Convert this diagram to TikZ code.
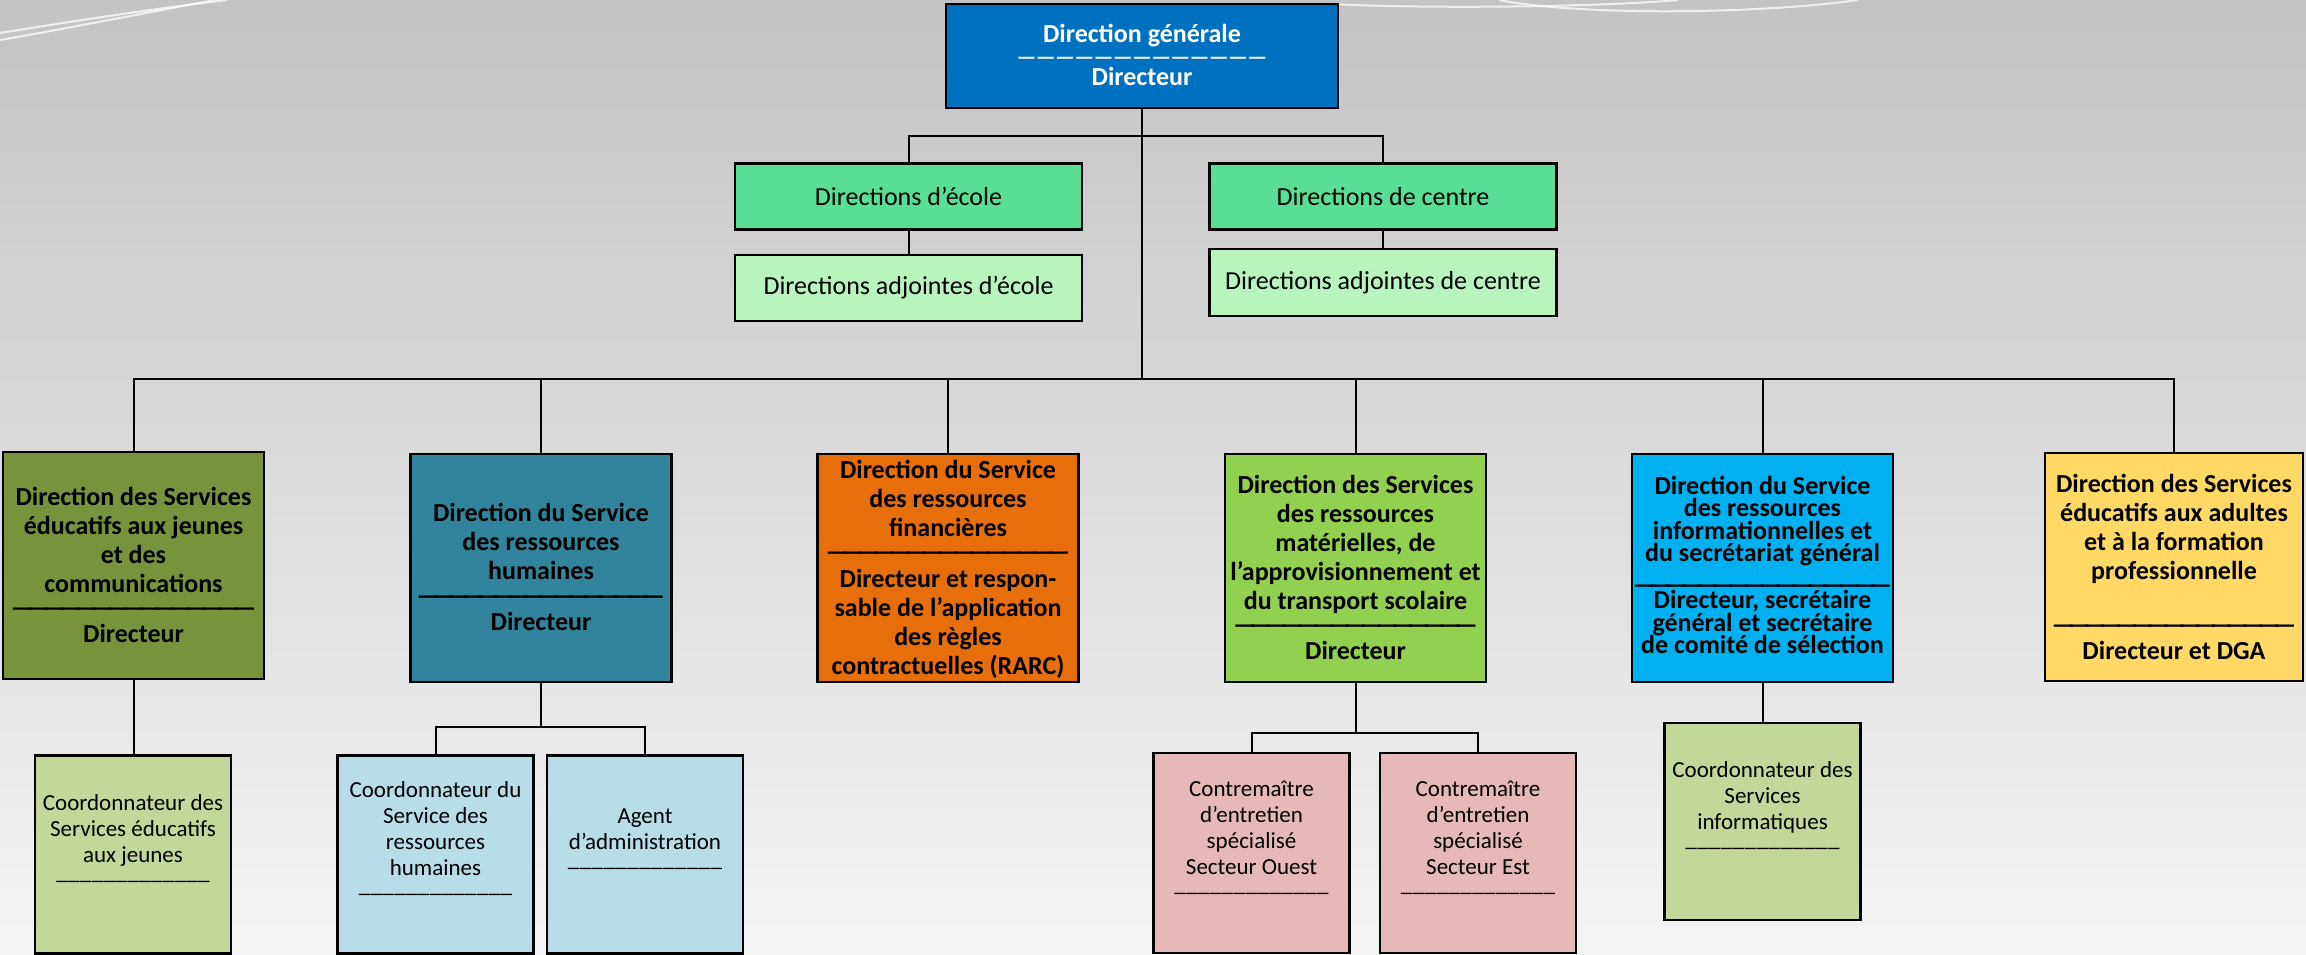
\documentclass[tikz,border=0pt]{standalone}
\usepackage{fontspec}
\setmainfont{Carlito}
\definecolor{cTop}{HTML}{0070C0}
\definecolor{cDir}{HTML}{58DF95}
\definecolor{cAdj}{HTML}{B8F4BC}
\definecolor{cOlive}{HTML}{77933C}
\definecolor{cTeal}{HTML}{31849B}
\definecolor{cOrange}{HTML}{E66F0C}
\definecolor{cGreen}{HTML}{92D050}
\definecolor{cBlue}{HTML}{00B0F0}
\definecolor{cYellow}{HTML}{FFD966}
\definecolor{cPaleOlive}{HTML}{C4D79B}
\definecolor{cPaleBlue}{HTML}{B7DEE8}
\definecolor{cPink}{HTML}{E6B9B8}
\definecolor{bgTop}{HTML}{C3C3C3}
\definecolor{bgBot}{HTML}{F4F4F4}
% a line of em dashes of width #1, one dash every #2
\newcommand\emline[2]{\hbox to #1{\xleaders\hbox to #2{\hss—\hss}\hfill}}
\newcommand\usline[1]{\hbox to #1{\xleaders\hbox{\_}\hfill}}
\tikzset{
  box/.style={draw=black, line width=1.1pt, inner sep=0pt, outer sep=0pt},
  link/.style={draw=black, line width=1pt},
  deco/.style={draw=white, line width=1pt, opacity=0.75},
  lvl/.style={align=center, inner sep=0pt, execute at begin node={\lineskiplimit=-100pt}},
  boldtxt/.style={lvl, font=\fontsize{13}{14.5}\selectfont\bfseries},
  smalltxt/.style={lvl, font=\fontsize{11.5}{13}\selectfont},
  l2box/.style={box, minimum width=130.5pt, minimum height=114pt},
  l3box/.style={box, minimum width=98pt, minimum height=99pt},
  l1box/.style={box, minimum width=173.5pt, minimum height=33pt, font=\fontsize{13}{15}\selectfont}
}
\begin{document}
\begin{tikzpicture}[x=0.5pt, y=-0.5pt]
\useasboundingbox (0,0) rectangle (2306,954);
\shade[top color=bgTop, bottom color=bgBot] (0,0) rectangle (2306,954);
% decorative curves
\draw[deco] (0,33) .. controls (80,20) and (160,8) .. (227,0);
\draw[deco] (0,40) .. controls (80,26) and (150,12) .. (215,0);
\draw[deco] (1330,4) .. controls (1430,9) and (1600,7) .. (1678,0);
\draw[deco] (1499,0) .. controls (1580,16) and (1760,14) .. (1858,0);

% top
\node[box, fill=cTop, minimum width=196pt, minimum height=52pt] (dg) at (1142,56) {};
\node[lvl, text=white, font=\fontsize{13}{10.75}\selectfont\bfseries] (dgt) at (1142,55) {Direction générale\\{\fontsize{11}{10.75}\selectfont\emline{125pt}{9.6pt}}\\Directeur};

% level 1
\node[l1box, fill=cDir] (ecole) at (908.5,196.5) {Directions d’école};
\node[l1box, fill=cAdj] (adjEcole) at (908.5,288) {Directions adjointes d’école};
\node[l1box, fill=cDir] (centre) at (1383,196.5) {Directions de centre};
\node[l1box, fill=cAdj, minimum height=33.5pt] (adjCentre) at (1383,282.5) {Directions adjointes de centre};

% level 2
\node[l2box, fill=cOlive, minimum height=113.5pt] (dsej) at (133.5,565.5) {};
\node[l2box, fill=cTeal] (srh) at (541,568) {};
\node[l2box, fill=cOrange] (srf) at (948,568) {};
\node[l2box, fill=cGreen] (srm) at (1355.5,568) {};
\node[l2box, fill=cBlue] (sri) at (1762.5,568) {};
\node[l2box, fill=cYellow, minimum width=129pt] (sea) at (2174,567) {};

\node[boldtxt] (dsejt) at (133.5,565) {Direction des Services\\éducatifs aux jeunes\\et des\\communications\\[-2.5pt]\emline{119.5pt}{7.5pt}\\[-1.5pt]Directeur};
\node[boldtxt] (srht) at (541,567) {Direction du Service\\des ressources\\humaines\\[-2pt]\emline{120pt}{7.5pt}\\[-1.5pt]Directeur};
\node[boldtxt] (srft) at (948,569.5) {Direction du Service\\des ressources\\financières\\[-2.5pt]\emline{119pt}{7.5pt}\\[-1pt]Directeur et respon-\\sable de l’application\\des règles\\contractuelles (RARC)};
\node[boldtxt] (srmt) at (1355.5,567) {Direction des Services\\des ressources\\matérielles, de\\l’approvisionnement et\\du transport scolaire\\[-2.5pt]\emline{119pt}{7.5pt}\\[-1.5pt]Directeur};
\node[lvl, font=\fontsize{13}{11.25}\selectfont\bfseries] (srit) at (1762.5,565) {Direction du Service\\des ressources\\informationnelles et\\du secrétariat général\\[4.75pt]\emline{126.5pt}{7.5pt}\\[-3.75pt]Directeur, secrétaire\\général et secrétaire\\de comité de sélection};
\node[boldtxt] (seat) at (2174,567) {Direction des Services\\éducatifs aux adultes\\et à la formation\\professionnelle\\[12.5pt]\emline{119pt}{7.5pt}\\[-1.5pt]Directeur et DGA};

% level 3
\node[l3box, fill=cPaleOlive] (c1) at (133,854.5) {};
\node[l3box, fill=cPaleBlue] (c2a) at (435.5,854.5) {};
\node[l3box, fill=cPaleBlue] (c2b) at (645,854.5) {};
\node[l3box, fill=cPink, minimum height=100pt] (c3a) at (1251.5,853) {};
\node[l3box, fill=cPink, minimum height=100pt] (c3b) at (1478,853) {};
\node[l3box, fill=cPaleOlive, minimum height=98.5pt] (c4) at (1762.5,821.5) {};

\node[smalltxt] (c1t) at (133,839) {Coordonnateur des\\Services éducatifs\\aux jeunes\\[-4.5pt]\usline{77pt}};
\node[smalltxt] (c2at) at (435.5,838.5) {Coordonnateur du\\Service des\\ressources\\humaines\\[-4.5pt]\usline{77pt}};
\node[smalltxt] (c2bt) at (645,839) {Agent\\d’administration\\[-4.5pt]\usline{77.5pt}};
\node[smalltxt] (c3at) at (1251.5,837.5) {Contremaître\\d’entretien\\spécialisé\\Secteur Ouest\\[-4.5pt]\usline{77.5pt}};
\node[smalltxt] (c3bt) at (1478,837.5) {Contremaître\\d’entretien\\spécialisé\\Secteur Est\\[-4.5pt]\usline{77.5pt}};
\node[smalltxt] (c4t) at (1762.5,806) {Coordonnateur des\\Services\\informatiques\\[-4.5pt]\usline{77.5pt}};

% connectors
\coordinate (jtop) at (1142,136);
\coordinate (bus) at (1142,379);
\coordinate (jrh) at (541,727);
\coordinate (jrm) at (1355.5,733);
\draw[link] (dg.south) -- (bus);
\draw[link] (ecole.north) |- (jtop) -| (centre.north);
\draw[link] (ecole.south) -- (adjEcole.north);
\draw[link] (centre.south) -- (adjCentre.north);
\draw[link] (dsej.north) |- (bus) -| (sea.north);
\foreach \n in {srh,srf,srm,sri} \draw[link] (\n.north) -- (\n.north |- bus);
\draw[link] (srh.south) -- (jrh);
\draw[link] (c2a.north) |- (jrh) -| (c2b.north);
\draw[link] (srm.south) -- (jrm);
\draw[link] (c3a.north) |- (jrm) -| (c3b.north);
\draw[link] (dsej.south) -- (dsej.south |- c1.north);
\draw[link] (sri.south) -- (c4.north);
\end{tikzpicture}
\end{document}
